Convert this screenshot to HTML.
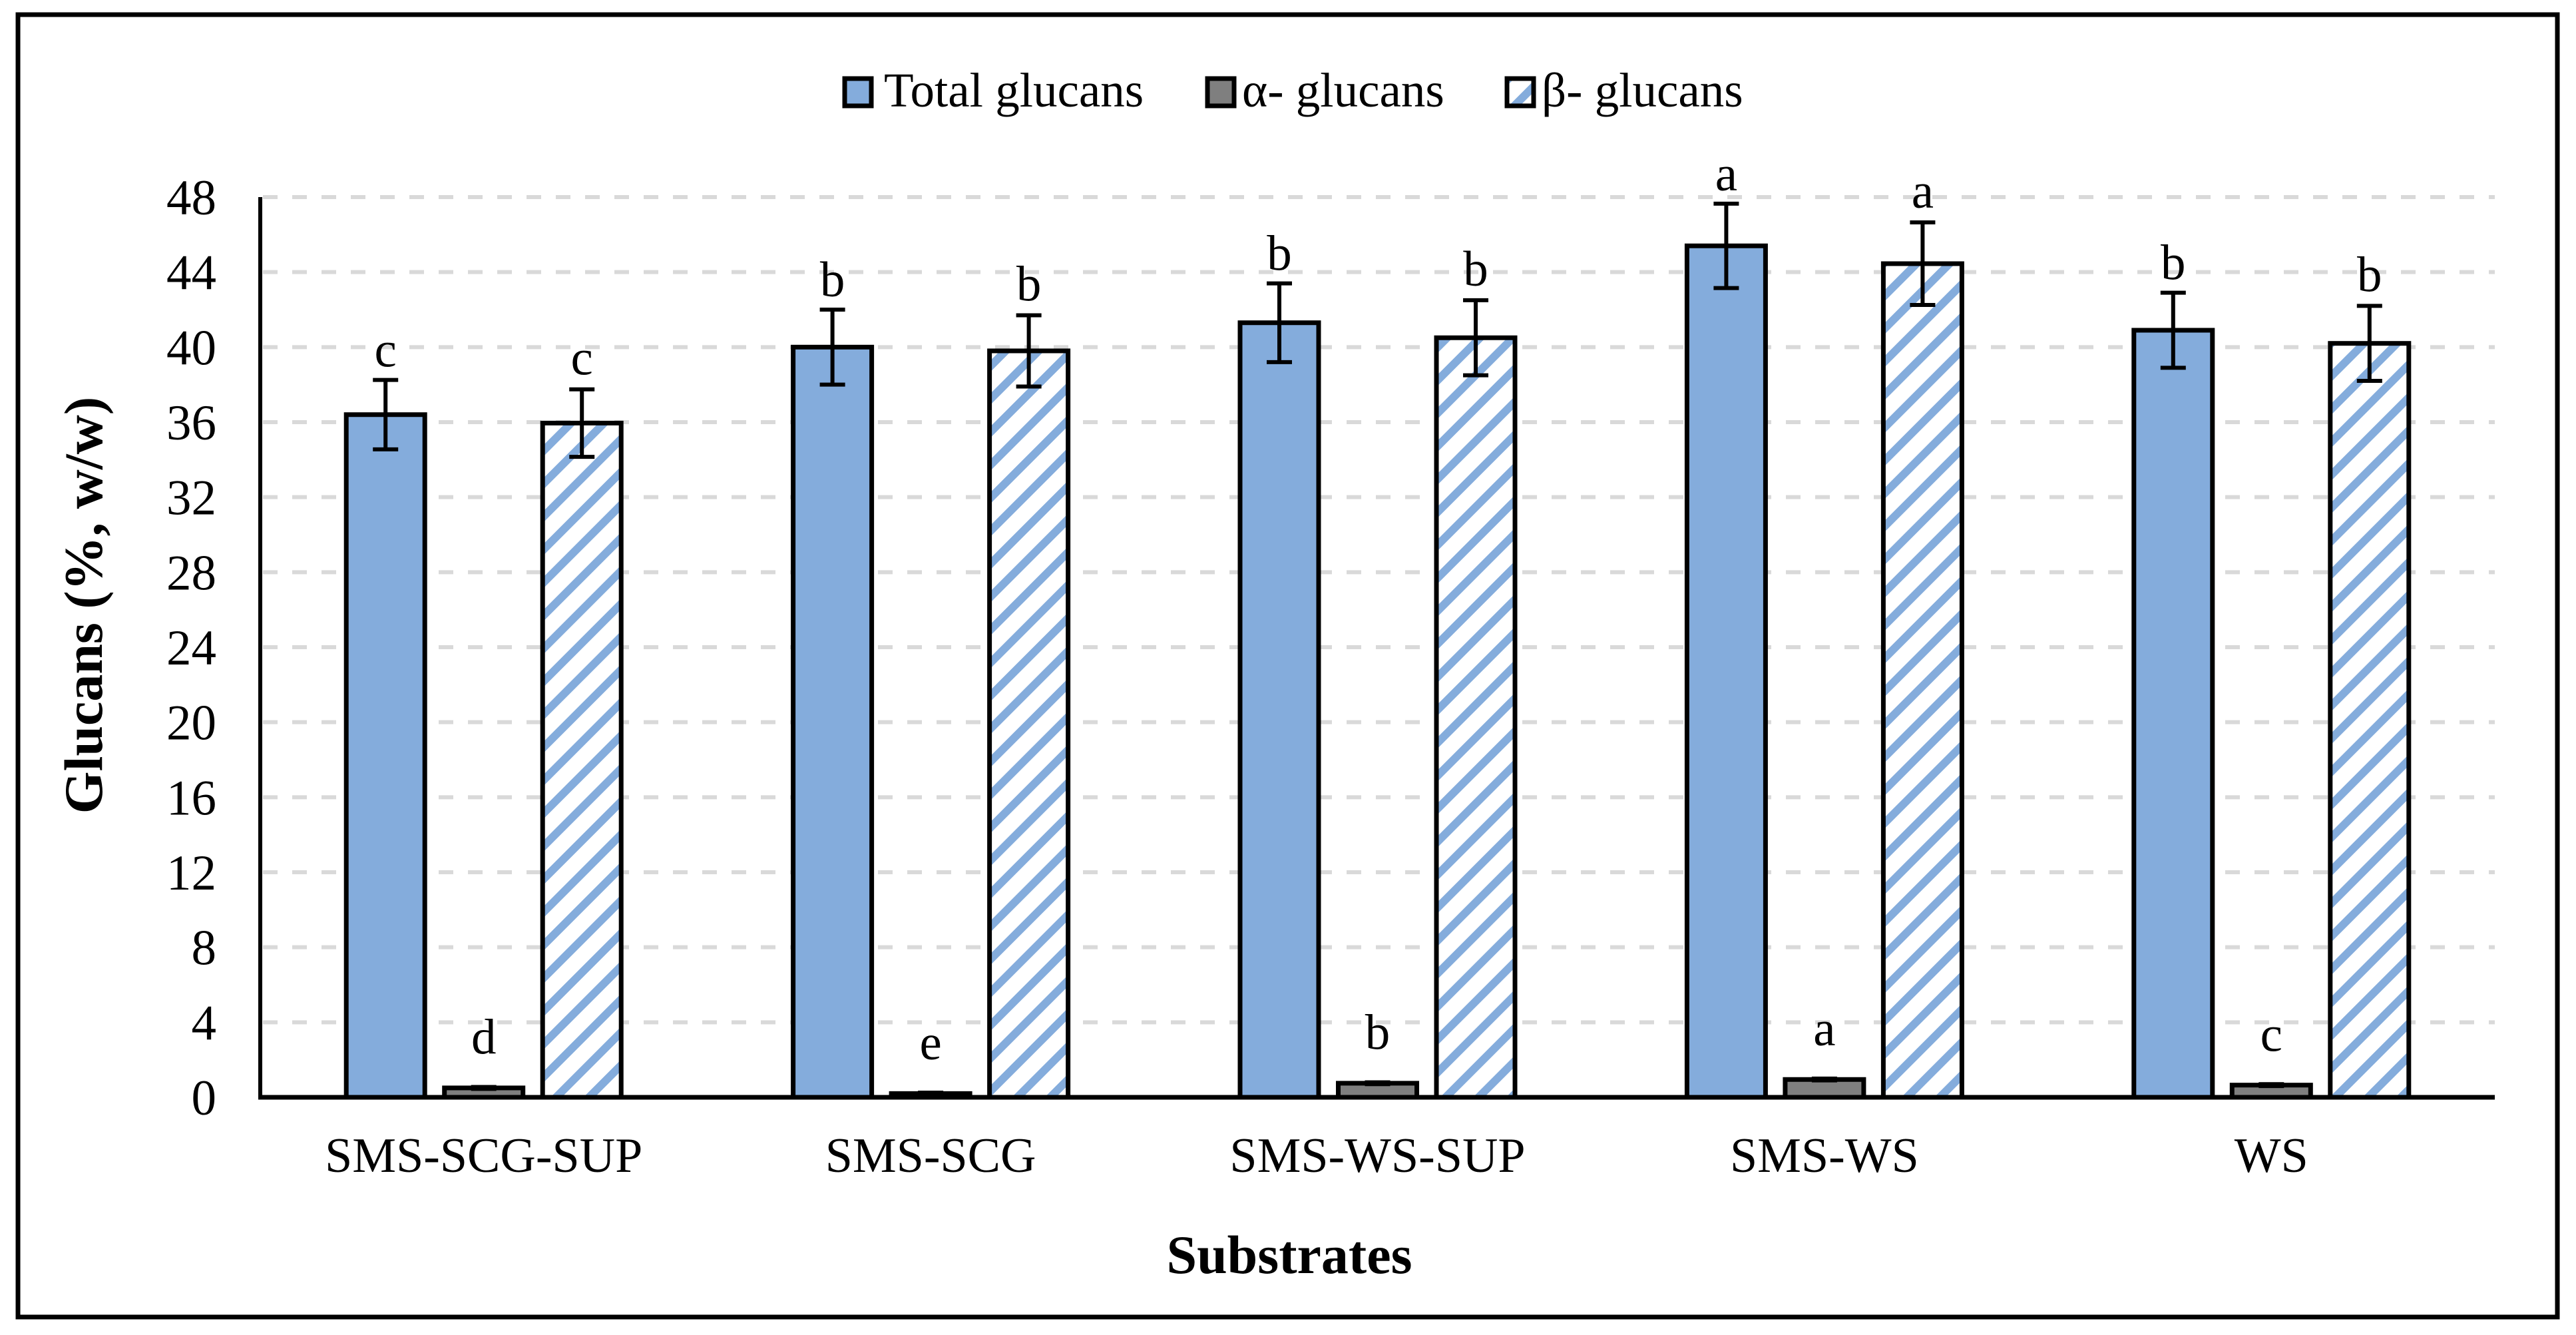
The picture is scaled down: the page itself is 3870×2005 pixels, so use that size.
<!DOCTYPE html>
<html><head><meta charset="utf-8"><title>Glucans chart</title>
<style>
html,body{margin:0;padding:0;background:#fff;}
svg{display:block;}
text{font-family:"Liberation Serif","Times New Roman",serif;fill:#000;}
</style></head>
<body>
<svg id="chart" width="3870" height="2005" viewBox="0 0 3870 2005" xmlns="http://www.w3.org/2000/svg">
<defs>
<pattern id="hatch" patternUnits="userSpaceOnUse" width="35" height="35" patternTransform="rotate(45)">
<rect x="0" y="0" width="35" height="35" fill="#fff"/>
<rect x="0" y="0" width="12" height="35" fill="#84acdc"/>
</pattern>
</defs>
<rect x="27" y="22" width="3815" height="1956" fill="#fff" stroke="#000" stroke-width="7"/>
<g id="legend">
  <g>
    <rect x="1269" y="118" width="40" height="41" fill="#84acdc" stroke="#000" stroke-width="7"/>
    <text x="1328" y="160" font-size="73">Total glucans</text>
  </g>
  <g>
    <rect x="1814" y="118" width="40" height="41" fill="#7f7f7f" stroke="#000" stroke-width="7"/>
    <text x="1866" y="160" font-size="73">α- glucans</text>
  </g>
  <g>
    <rect x="2264" y="118" width="40" height="41" fill="url(#hatch)" stroke="#000" stroke-width="7"/>
    <text x="2316" y="160" font-size="73">β- glucans</text>
  </g>
</g>
<g id="grid"></g>
<g id="yticks"></g>
<g id="bars"></g>
<g id="xlabels"></g>
<line x1="391" y1="296" x2="391" y2="1651" stroke="#000" stroke-width="6"/>
<line x1="388" y1="1648" x2="3748" y2="1648" stroke="#000" stroke-width="7"/>
<text transform="translate(153,909) rotate(-90)" text-anchor="middle" font-size="82" font-weight="bold">Glucans (%, w/w)</text>
<text x="1937" y="1912" text-anchor="middle" font-size="82" font-weight="bold">Substrates</text>
</svg>
<script>
const categories = ["SMS-SCG-SUP","SMS-SCG","SMS-WS-SUP","SMS-WS","WS"];
const totalVals = [36.4, 40.0, 41.3, 45.4, 40.9];
const totalErr = [1.85, 2.0, 2.1, 2.25, 2.0];
const totalLetters = ["c","b","b","a","b"];
const alphaVals = [0.5, 0.2, 0.75, 0.95, 0.65];
const alphaErr = [0.05, 0.05, 0.05, 0.05, 0.05];
const alphaLetters = ["d","e","b","a","c"];
const betaVals = [35.95, 39.8, 40.5, 44.45, 40.2];
const betaErr = [1.8, 1.9, 2.0, 2.2, 2.0];
const betaLetters = ["c","b","b","a","b"];
const yTicks = [0,4,8,12,16,20,24,28,32,36,40,44,48];

const NS = "http://www.w3.org/2000/svg";
const X0 = 391, X1 = 3748, Y0 = 1648, Ytop = 296, YMAX = 48;
const y = v => Y0 - (v / YMAX) * (Y0 - Ytop);
const groupW = (X1 - X0) / categories.length;
const xCenter = i => X0 + groupW * (i + 0.5);
const BW = 118, OFF = 147.5;

function mk(tag, attrs, parent) {
  const e = document.createElementNS(NS, tag);
  for (const k in attrs) e.setAttribute(k, attrs[k]);
  parent.appendChild(e);
  return e;
}

const grid = document.getElementById('grid');
const yt = document.getElementById('yticks');
yTicks.forEach(t => {
  if (t > 0) {
    const l = mk('line', {x1: X0 + 4, x2: X1, y1: y(t), y2: y(t), stroke: '#d9d9d9', 'stroke-width': 6, 'stroke-dasharray': '22 22'}, grid);
    
    
  }
  const tx = mk('text', {x: 325, y: y(t) + 26, 'text-anchor': 'end', 'font-size': 75}, yt);
  tx.textContent = t;
  
  
});

const bars = document.getElementById('bars');
const series = [
  {name: 'total', vals: totalVals, err: totalErr, letters: totalLetters, off: -OFF, fill: '#84acdc', gap: 20},
  {name: 'alpha', vals: alphaVals, err: alphaErr, letters: alphaLetters, off: 0, fill: '#7f7f7f', gap: 50},
  {name: 'beta', vals: betaVals, err: betaErr, letters: betaLetters, off: OFF, fill: 'url(#hatch)', gap: 22}
];
series.forEach(s => {
  s.vals.forEach((v, i) => {
    const cx = xCenter(i) + s.off;
    const r = mk('rect', {x: cx - BW / 2, y: y(v), width: BW, height: Y0 - y(v), fill: s.fill, stroke: '#000', 'stroke-width': 7}, bars);
    
    
    const yt1 = y(v + s.err[i]), yb1 = y(v - s.err[i]);
    const eb = mk('path', {d: `M${cx},${yt1}V${yb1}M${cx - 19},${yt1}H${cx + 19}M${cx - 19},${yb1}H${cx + 19}`, stroke: '#000', 'stroke-width': 6, fill: 'none'}, bars);
    
    
    const lt = mk('text', {x: cx, y: yt1 - s.gap, 'text-anchor': 'middle', 'font-size': 75}, bars);
    lt.textContent = s.letters[i];
    
    
  });
});

const xl = document.getElementById('xlabels');
categories.forEach((c, i) => {
  const t = mk('text', {x: xCenter(i), y: 1760, 'text-anchor': 'middle', 'font-size': 74}, xl);
  t.textContent = c;
  
  
});
</script>
</body></html>
